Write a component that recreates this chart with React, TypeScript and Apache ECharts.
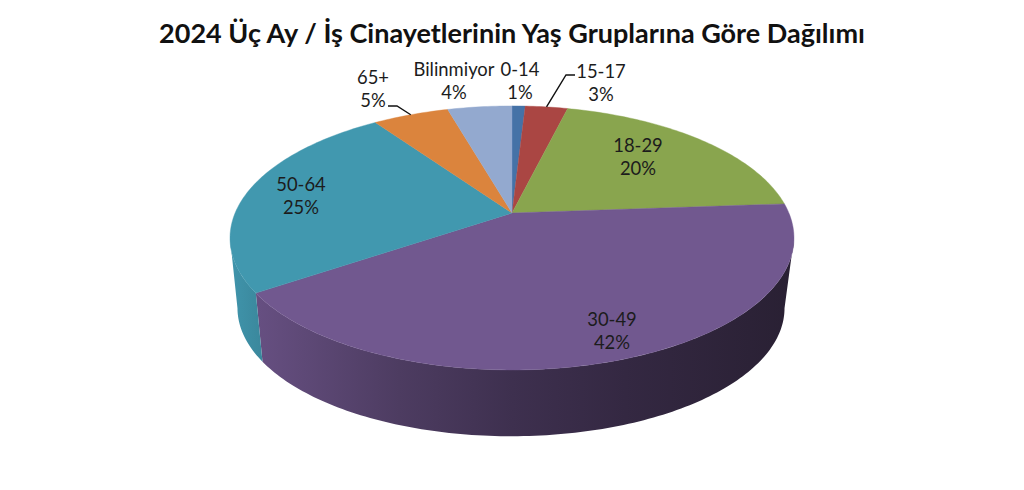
import React, { useEffect, useRef } from "react";
import * as echarts from "echarts";

const TITLE = "2024 Üç Ay / İş Cinayetlerinin Yaş Gruplarına Göre Dağılımı";
const CATEGORIES = ["0-14", "15-17", "18-29", "30-49", "50-64", "65+", "Bilinmiyor"];
const VALUES = [0.9, 2.9, 19.9, 41.4, 24.7, 5.2, 4.4];
const PERCENT_LABELS = ["1%", "3%", "20%", "42%", "25%", "5%", "4%"];
const COLORS = ["#4572A7", "#AA4643", "#89A54E", "#71588F", "#4198AF", "#DB843D", "#93A9CF"];

// Layout of the label centres and leader elbows (not data)
const LABEL_AT: number[][] = [[520, 80], [601, 82], [638, 156], [612, 330], [301, 195], [373, 88], [454, 80]];
const LEADER_FROM: (number[][] | null)[] = [null, [[575, 75], [566, 75]], null, null, null, [[388, 106], [397, 106]], null];

// Perspective disc projection
const CX = 512, CY = 213, B = 276.9, A = 127.3, K = -0.189;
const BASE_DX = -1, BASE_DY = 71, BASE_SCALE = 0.97;
const SIDE_STOPS = [[0, 0.98], [0.05, 0.9], [0.3, 0.68], [0.5, 0.55], [0.7, 0.46], [1, 0.36]];

const total = VALUES.reduce((a, b) => a + b, 0);
const startAt = (i: number) => VALUES.slice(0, i).reduce((a, b) => a + b, 0) / total * 360 - 90;
const topPt = (deg: number) => {
  const r = deg * Math.PI / 180;
  const u = Math.cos(r), v = Math.sin(r), d = 1 + K * v;
  return [CX + B * u / d, CY + A * v / d];
};
const basePt = (deg: number) => {
  const p = topPt(deg);
  return [CX + BASE_DX + (p[0] - CX) * BASE_SCALE, CY + BASE_DY + (p[1] - CY) * BASE_SCALE];
};
const arc = (from: number, to: number, fn: (d: number) => number[]) => {
  const out: number[][] = [];
  const n = Math.max(2, Math.ceil(Math.abs(to - from)));
  for (let i = 0; i <= n; i++) out.push(fn(from + (to - from) * i / n));
  return out;
};
const shade = (hex: string, f: number) => {
  const n = parseInt(hex.slice(1), 16);
  const c = [n >> 16, (n >> 8) & 255, n & 255].map((x) => Math.round(x * f));
  return `rgb(${c[0]},${c[1]},${c[2]})`;
};
const TANGENT = Math.asin(-K) * 180 / Math.PI;

const renderBody = (params: any) => {
  const i = params.dataIndex;
  const a0 = startAt(i), a1 = startAt(i + 1);
  const color = COLORS[i];
  const children: any[] = [];
  const s0 = Math.max(a0, TANGENT), s1 = Math.min(a1, 180 - TANGENT);
  if (s1 > s0) {
    const pts = [...arc(s0, s1, topPt), ...arc(s1, s0, basePt)];
    children.push({
      type: "polygon",
      z2: 1,
      shape: { points: pts },
      style: {
        fill: new echarts.graphic.LinearGradient(
          CX - B * 1.02, 0, CX + B * 1.02, 0,
          SIDE_STOPS.map(([offset, f]) => ({ offset, color: shade(color, f) })),
          true,
        ),
      },
    });
  }
  children.push({
    type: "polygon",
    z2: 2,
    shape: { points: [[CX, CY], ...arc(a0, a1, topPt)] },
    style: { fill: color, stroke: color, lineWidth: 0.4 },
  });
  return { type: "group", children };
};

const renderLabel = (params: any) => {
  const i = params.dataIndex;
  const [x, y] = LABEL_AT[i];
  const children: any[] = [
    {
      type: "text",
      style: {
        x, y,
        text: `${CATEGORIES[i]}\n${PERCENT_LABELS[i]}`,
        fill: "#1c1c1c",
        font: '18.4px Lato',
        lineHeight: 23,
        align: "center",
        verticalAlign: "middle",
      },
    },
  ];
  const elbow = LEADER_FROM[i];
  if (elbow) {
    const tip = topPt((startAt(i) + startAt(i + 1)) / 2);
    children.push({
      type: "polyline",
      shape: { points: [...elbow, tip] },
      style: { stroke: "#111111", lineWidth: 1.4, fill: "none" },
    });
  }
  return { type: "group", children };
};

export default function App() {
  const ref = useRef<HTMLDivElement>(null);
  useEffect(() => {
    const chart = echarts.init(ref.current!, null, { renderer: "svg" });
    chart.setOption({
      animation: false,
      backgroundColor: "#ffffff",
      title: {
        text: TITLE,
        left: 507,
        textAlign: "center",
        top: 14,
        textStyle: { fontFamily: "Lato", fontWeight: "bold", fontSize: 27, color: "#111111" },
      },
      series: [
        { type: "custom", coordinateSystem: "none", silent: true, z: 2, data: VALUES, renderItem: renderBody },
        { type: "custom", coordinateSystem: "none", silent: true, z: 3, data: VALUES, renderItem: renderLabel },
      ],
    });
    return () => chart.dispose();
  }, []);
  return <div ref={ref} style={{ position: "absolute", left: 0, top: 0, width: 1024, height: 490 }} />;
}
